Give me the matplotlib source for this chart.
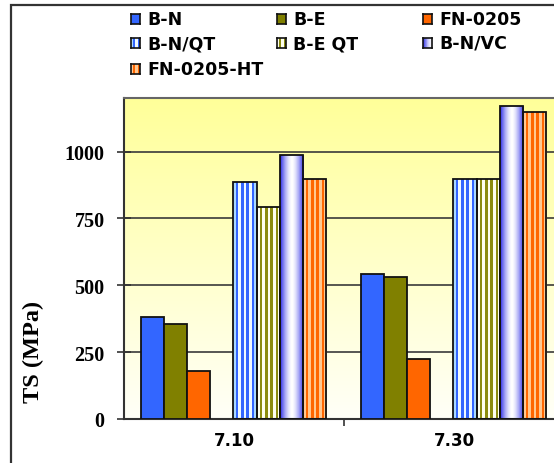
import numpy as np
import matplotlib.pyplot as plt
from matplotlib.colors import to_rgb
from matplotlib.patches import Rectangle

categories = ["7.10", "7.30"]
series = ["B-N", "B-E", "FN-0205", "B-N/QT", "B-E QT", "B-N/VC", "FN-0205-HT"]
bn = [383, 542]
be = [354, 530]
fn = [181, 224]
bn_qt = [885, 898]
be_qt = [793, 898]
bn_vc = [986, 1170]
fn_ht = [898, 1147]
yticks = [0, 250, 500, 750, 1000]


def row(colors):
    return np.array([[to_rgb(c) for c in colors]])


def stripes(a, b, n=9, edge=None):
    cols = [a if i % 2 else b for i in range(n)]
    if edge:
        cols[0] = cols[-1] = edge
    return row(cols)


def cylinder(edge, mid, n=40):
    t = np.abs(np.linspace(-1, 1, n)) ** 1.6
    e, m = np.array(to_rgb(edge)), np.array(to_rgb(mid))
    return (m + (e - m) * t[:, None])[None, :, :]


fills = [
    row(["#3366FF"]),
    row(["#808000"]),
    row(["#FF6600"]),
    stripes("#3366FF", "#F0FAFF", 9, "#A8D8FF"),
    stripes("#8C8C10", "#FFFFF0", 9),
    cylinder("#2B2BE6", "#FFFFFF"),
    stripes("#FF6600", "#FFC890", 9),
]
values = [bn, be, fn, bn_qt, be_qt, bn_vc, fn_ht]
slots = [0, 1, 2, 4, 5, 6, 7]

fig = plt.figure(figsize=(5.54, 4.64), dpi=100)
ax = fig.add_axes([124 / 554, 44 / 464, 440 / 554, 321 / 464])

# pale yellow gradient behind the plot, strongest at the top
grad = np.linspace(0, 1, 256)[:, None]
top, bot = np.array(to_rgb("#FFFF99")), np.array(to_rgb("#FFFFF8"))
bg = (top + (bot - top) * grad)[:, None, :].repeat(2, axis=1)
ax.imshow(bg, extent=(0, 2, 0, 1200), origin="upper", aspect="auto", zorder=0)

for y in yticks[1:]:
    ax.axhline(y, color="#3a3a3a", lw=1.2, zorder=1)

w = 23.1 / 220
start = 17 / 220
xc = np.arange(len(categories))
for vals, fill, s in zip(values, fills, slots):
    xs = xc + start + w * (s + 0.5)
    solid = fill.shape[1] == 1
    bars = ax.bar(xs, vals, w, color=fill[0, 0] if solid else "none",
                  edgecolor="#111111", lw=1.3, zorder=3)
    if not solid:
        for b in bars:
            im = ax.imshow(fill, extent=(b.get_x(), b.get_x() + b.get_width(), 0, b.get_height()),
                           aspect="auto", interpolation="nearest" if fill.shape[1] < 20 else "bilinear",
                           zorder=2.5)
            im.set_clip_path(b)

ax.set_xlim(0, 2)
ax.set_ylim(0, 1200)
ax.set_yticks(yticks)
ax.set_yticklabels([str(v) for v in yticks], fontfamily="Liberation Serif",
                   fontweight="bold", fontsize=14.5)
ax.tick_params(axis="y", direction="inout", length=10, width=1.2, color="#333333", pad=9)
ax.set_xticks(xc + 0.5)
ax.set_xticklabels(categories, fontfamily="DejaVu Sans", fontweight="bold", fontsize=12)
ax.tick_params(axis="x", length=0, pad=9)
ax.set_xticks([1], minor=True)
ax.tick_params(axis="x", which="minor", direction="out", length=5, width=1.2, color="#333333")
for side in ["left", "bottom"]:
    ax.spines[side].set_color("#333333")
    ax.spines[side].set_linewidth(1.5)
ax.spines["top"].set_color("#666666")
ax.spines["top"].set_linewidth(1.5)
ax.spines["right"].set_visible(False)
fig.text(33 / 554, 1 - 352 / 464, "TS (MPa)", rotation=90, ha="center", va="center",
         fontfamily="Liberation Serif", fontweight="bold", fontsize=17.5)

# legend built from small swatches
cols_x = [131, 277, 423]
rows_y = [20, 44, 70]
for i, (name, fill) in enumerate(zip(series, fills)):
    cx, cy = cols_x[i % 3], rows_y[i // 3]
    sw = fig.add_axes([cx / 554, 1 - (cy + 5) / 464, 9 / 554, 10 / 464])
    img = fill if fill.shape[1] == 1 else fill[:, :max(3, fill.shape[1] // 2)]
    sw.imshow(img, aspect="auto", interpolation="nearest")
    sw.set_xticks([])
    sw.set_yticks([])
    for sp in sw.spines.values():
        sp.set_linewidth(1.2)
        sp.set_color("#111111")
    fig.text((cx + 16) / 554, 1 - cy / 464, name, ha="left", va="center",
             fontfamily="DejaVu Sans", fontweight="bold", fontsize=12.5)

fig.patches.append(Rectangle((11 / 554, -0.05), 1.0, 1.05 - 6 / 464, transform=fig.transFigure,
                             fill=False, edgecolor="#333333", lw=1.6))

fig.savefig("out.png", dpi=100)
